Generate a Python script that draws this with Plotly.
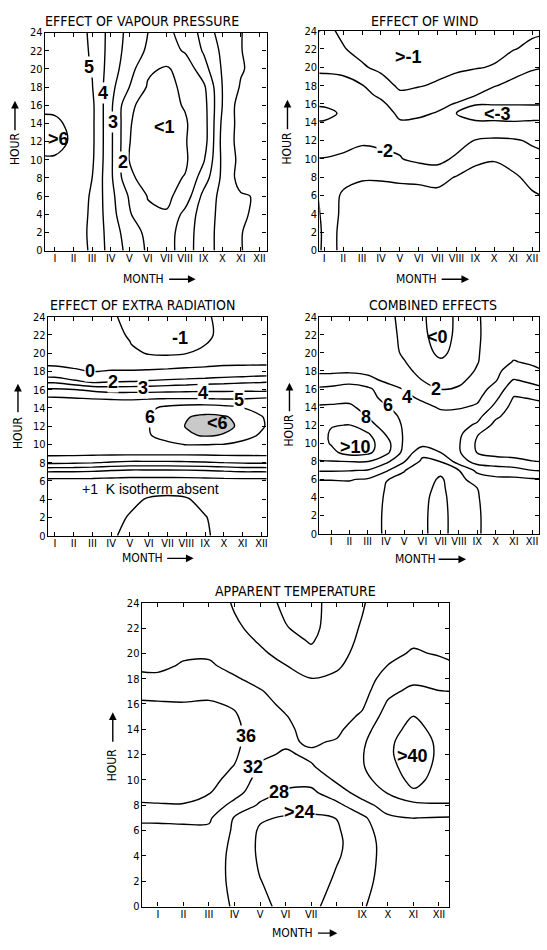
import plotly.graph_objects as go

W, H = 547, 950

# ---------------- data ----------------
MONTHS = [0.3, 1, 2, 3, 4, 5, 6, 7, 8, 9, 10, 11, 12, 12.7]
ROMAN = ["I", "II", "III", "IV", "V", "VI", "VII", "VIII", "IX", "X", "XI", "XII"]
ROMAN_APPARENT = ["I", "II", "III", "IV", "V", "VI", "VII", "", "IX", "X", "XI", "XII"]
MONTH_TICKS = list(range(1, 13))
HOUR_TICKS = list(range(0, 25, 2))

# Effect of vapour pressure (K)
HOURS_VAPOUR = [0, 2, 4, 6, 8, 10, 12, 14, 16, 18, 20, 22, 24]
VAPOUR = [
    [5.7, 5.7, 5.5, 4.85, 3.6, 2.7, 1.85, 1.6, 2.5, 3.6, 4.3, 4.97, 5.3, 5.4],
    [5.7, 5.7, 5.5, 4.8, 3.55, 2.5, 1.75, 1.6, 2.45, 3.6, 4.3, 4.97, 5.3, 5.4],
    [5.7, 5.7, 5.5, 4.85, 3.4, 2.1, 1.2, 1.08, 2.3, 3.5, 4.3, 4.9, 5.15, 5.3],
    [5.7, 5.7, 5.5, 4.9, 3.3, 1.9, 0.95, 0.8, 1.4, 3.3, 4.3, 4.9, 5.1, 5.3],
    [5.8, 5.8, 5.6, 5.0, 3.2, 1.15, 0.7, 0.75, 1.05, 2.5, 4.2, 5.4, 5.5, 5.6],
    [5.9, 5.9, 5.7, 5.15, 3.2, 0.98, 0.6, 0.5, 0.85, 1.9, 4.2, 5.3, 5.5, 5.6],
    [6.3, 6.3, 5.85, 5.2, 3.2, 1.02, 0.6, 0.5, 0.95, 1.5, 4.3, 5.4, 5.5, 5.6],
    [6.2, 6.15, 5.8, 5.2, 3.2, 1.05, 0.65, 0.6, 0.92, 1.5, 4.2, 5.4, 5.5, 5.6],
    [5.8, 5.8, 5.6, 5.2, 3.2, 1.15, 0.7, 0.8, 1.05, 1.6, 4.0, 5.5, 5.6, 5.65],
    [5.7, 5.7, 5.5, 5.05, 3.3, 2.0, 0.9, 0.8, 1.15, 1.8, 4.0, 5.1, 5.5, 5.6],
    [5.6, 5.6, 5.4, 4.95, 3.5, 2.4, 1.15, 0.9, 1.35, 2.6, 4.1, 4.9, 5.4, 5.5],
    [5.6, 5.6, 5.4, 4.9, 3.6, 2.6, 1.85, 1.6, 2.1, 3.1, 4.2, 4.97, 5.4, 5.5],
    [5.6, 5.6, 5.4, 4.85, 3.65, 2.7, 2.0, 1.75, 2.4, 3.3, 4.5, 4.97, 5.4, 5.5],
]

# Effect of wind (K)
HOURS_WIND = [0, 2, 4, 6, 8, 10, 12, 14, 15, 16, 17, 18, 20, 22, 24]
WIND = [
    [-0.4, -1.2, -0.9, -0.75, -0.7, -0.65, -0.65, -0.6, -0.5, -0.45, -0.45, -0.5, -0.6, -0.65],
    [-0.3, -1.2, -0.9, -0.7, -0.65, -0.6, -0.6, -0.55, -0.45, -0.4, -0.4, -0.45, -0.6, -0.65],
    [-0.5, -1.25, -0.92, -0.75, -0.7, -0.65, -0.65, -0.6, -0.5, -0.45, -0.45, -0.5, -0.65, -0.75],
    [-0.75, -1.3, -0.93, -0.8, -0.8, -0.8, -0.85, -0.8, -0.65, -0.55, -0.5, -0.6, -0.9, -1.05],
    [-1.6, -1.6, -1.15, -1.05, -1.05, -1.1, -1.1, -1.25, -0.95, -0.75, -0.7, -0.85, -1.25, -1.4],
    [-1.97, -1.97, -1.85, -1.6, -1.7, -1.95, -2.25, -2.35, -1.8, -1.15, -1.05, -1.35, -1.75, -1.85],
    [-2.4, -2.4, -2.3, -2.15, -2.25, -2.2, -2.4, -2.55, -2.5, -1.95, -1.85, -1.9, -2.1, -2.2],
    [-2.95, -2.95, -2.7, -2.5, -2.6, -2.1, -2.15, -2.4, -2.9, -2.9, -2.9, -2.95, -2.9, -2.9],
    [-3.2, -3.2, -2.9, -2.6, -2.6, -1.75, -1.85, -2.05, -3.02, -3.4, -3.45, -3.45, -3.4, -3.4],
    [-2.9, -2.9, -2.7, -2.55, -2.2, -1.5, -1.6, -1.8, -2.05, -2.95, -2.95, -2.95, -2.95, -2.95],
    [-2.65, -2.65, -2.5, -2.3, -1.8, -1.15, -1.3, -1.45, -1.7, -1.95, -2.4, -2.6, -2.7, -2.75],
    [-2.4, -2.4, -2.35, -2.05, -1.4, -0.85, -0.95, -1.1, -1.35, -1.55, -1.95, -2.25, -2.45, -2.5],
    [-1.8, -1.8, -1.7, -1.1, -0.8, -0.6, -0.7, -0.75, -0.85, -0.95, -1.05, -1.6, -1.9, -1.98],
    [-1.3, -1.5, -1.05, -0.75, -0.6, -0.5, -0.6, -0.6, -0.65, -0.7, -0.8, -0.95, -1.2, -1.3],
    [-0.6, -1.2, -0.85, -0.7, -0.55, -0.5, -0.55, -0.55, -0.55, -0.6, -0.65, -0.7, -0.85, -0.9],
]

# Effect of extra radiation (K)
HOURS_RADIATION = [0, 2, 4, 5, 6, 7, 8, 9, 10, 11, 12, 13, 14, 15, 16, 17, 18, 19, 20, 21, 22, 24]
RADIATION = [
    [-0.4, -0.4, -0.45, -0.55, -0.85, -1.3, -1.5, -1.55, -1.5, -1.08, -0.8, -0.6, -0.5, -0.45],
    [-0.4, -0.4, -0.45, -0.55, -0.8, -1.05, -1.4, -1.45, -1.4, -1.03, -0.75, -0.6, -0.5, -0.45],
    [-0.4, -0.4, -0.45, -0.5, -0.65, -0.85, -1.05, -1.1, -1.05, -0.8, -0.6, -0.5, -0.45, -0.4],
    [-0.4, -0.4, -0.45, -0.5, -0.6, -0.7, -0.8, -0.85, -0.8, -0.65, -0.55, -0.5, -0.45, -0.4],
    [-0.6, -0.65, -0.67, -0.7, -0.8, -0.9, -0.9, -0.9, -0.9, -0.8, -0.7, -0.67, -0.65, -0.6],
    [2.05, 2.0, 2.0, 1.9, 1.7, 1.55, 1.55, 1.55, 1.6, 1.7, 1.85, 2.0, 2.0, 2.05],
    [4.2, 4.2, 4.15, 4.05, 3.9, 3.8, 3.8, 3.8, 3.85, 3.9, 4.0, 4.1, 4.15, 4.2],
    [5.25, 5.25, 5.25, 5.22, 5.2, 5.2, 5.2, 5.2, 5.2, 5.22, 5.25, 5.25, 5.25, 5.25],
    [5.5, 5.5, 5.5, 5.5, 5.5, 5.55, 5.6, 5.85, 6.03, 6.03, 5.98, 5.8, 5.6, 5.55],
    [5.55, 5.55, 5.55, 5.55, 5.55, 5.65, 5.95, 6.3, 6.85, 7.1, 6.95, 6.3, 5.9, 5.6],
    [5.6, 5.6, 5.6, 5.6, 5.6, 5.7, 5.98, 6.5, 7.05, 7.35, 7.2, 6.85, 6.1, 5.7],
    [5.55, 5.55, 5.55, 5.55, 5.55, 5.65, 5.98, 6.4, 6.95, 7.2, 7.1, 6.7, 6.05, 5.65],
    [5.45, 5.45, 5.45, 5.45, 5.45, 5.55, 5.8, 6.25, 6.45, 6.5, 6.35, 6.02, 5.7, 5.5],
    [5.2, 5.18, 5.1, 4.99, 4.96, 4.93, 4.97, 5.02, 5.03, 5.02, 4.98, 4.97, 5.1, 5.2],
    [4.15, 4.15, 4.05, 3.8, 3.6, 3.6, 3.6, 3.65, 3.7, 3.75, 3.75, 3.8, 3.75, 3.8],
    [2.62, 2.62, 2.1, 1.5, 1.75, 1.8, 2.0, 2.2, 2.35, 2.5, 2.6, 2.7, 2.8, 2.85],
    [0.9, 0.9, 0.3, -0.05, 0.1, 0.1, 0.15, 0.25, 0.4, 0.55, 0.9, 1.05, 1.2, 1.2],
    [-0.6, -0.6, -0.6, -0.6, -0.7, -0.7, -0.65, -0.65, -0.6, -0.55, -0.5, -0.5, -0.5, -0.5],
    [-0.5, -0.5, -0.5, -0.55, -0.7, -0.85, -1.05, -1.1, -1.02, -0.8, -0.6, -0.5, -0.5, -0.5],
    [-0.5, -0.5, -0.5, -0.6, -0.8, -0.98, -1.3, -1.35, -1.25, -1.02, -0.75, -0.55, -0.5, -0.5],
    [-0.5, -0.5, -0.5, -0.6, -0.85, -1.05, -1.4, -1.45, -1.35, -1.15, -0.8, -0.6, -0.5, -0.5],
    [-0.5, -0.5, -0.5, -0.65, -0.9, -1.2, -1.45, -1.5, -1.45, -1.1, -0.8, -0.6, -0.5, -0.5],
]

# Combined effects (K)
HOURS_COMBINED = [0, 2, 4, 5, 6, 7, 8, 9, 10, 11, 12, 13, 14, 15, 16, 17, 18, 19, 20, 22, 24]
COMBINED = [
    [3.0, 3.0, 3.0, 3.0, 1.7, 1.2, 0.25, -0.6, 0.9, 1.85, 2.6, 2.8, 2.8, 2.8],
    [3.0, 3.0, 3.0, 3.0, 1.7, 1.2, 0.25, -0.6, 0.9, 1.85, 2.6, 2.8, 2.8, 2.8],
    [3.2, 3.2, 3.2, 3.1, 1.8, 1.3, 0.3, -0.5, 1.0, 1.9, 2.8, 3.0, 3.0, 3.0],
    [3.5, 3.5, 3.5, 3.3, 1.9, 1.5, 0.45, -0.4, 1.2, 1.98, 3.1, 3.3, 3.3, 3.3],
    [4.05, 4.05, 4.1, 3.8, 2.05, 1.75, 0.9, -0.3, 1.5, 2.8, 3.6, 3.6, 3.75, 3.85],
    [6.2, 6.2, 6.1, 5.9, 4.3, 2.05, 1.3, 0.55, 1.98, 4.5, 4.9, 5.2, 6.0, 6.1],
    [7.9, 7.95, 8.05, 8.1, 6.5, 4.15, 1.6, 2.05, 5.0, 6.8, 7.3, 7.6, 7.95, 8.1],
    [8.8, 9.5, 10.8, 10.5, 8.6, 5.4, 2.6, 4.05, 5.8, 8.1, 8.6, 8.6, 8.8, 8.9],
    [9.2, 10.15, 11.1, 10.8, 8.8, 5.7, 4.8, 4.9, 5.85, 8.3, 8.9, 9.0, 9.0, 9.05],
    [9.3, 10.2, 10.9, 10.3, 7.9, 5.8, 5.2, 5.1, 5.6, 7.9, 9.0, 9.1, 9.1, 9.1],
    [9.2, 9.9, 10.05, 8.6, 7.3, 5.75, 5.35, 5.0, 5.3, 6.3, 8.6, 9.1, 9.1, 9.1],
    [8.8, 9.2, 9.3, 7.9, 6.9, 5.5, 5.1, 4.5, 4.8, 5.4, 7.6, 9.0, 9.0, 9.0],
    [8.2, 8.3, 8.4, 7.2, 6.2, 5.0, 4.5, 3.8, 3.8, 4.3, 6.5, 8.7, 8.6, 8.5],
    [7.3, 7.3, 7.4, 6.8, 5.4, 4.5, 3.7, 2.9, 3.0, 3.6, 5.6, 8.15, 7.9, 7.6],
    [6.2, 6.3, 6.6, 6.4, 4.9, 3.9, 2.8, 1.98, 2.2, 3.0, 4.8, 7.2, 6.7, 6.2],
    [5.2, 5.3, 5.5, 4.6, 3.6, 3.3, 1.95, 1.3, 1.6, 2.6, 3.8, 6.1, 5.5, 5.0],
    [3.5, 3.5, 3.6, 3.5, 3.2, 2.6, 1.3, 0.7, 1.0, 2.2, 3.4, 5.2, 4.5, 3.98],
    [3.4, 3.4, 3.4, 3.3, 3.0, 2.1, 0.9, 0.2, 0.7, 1.9, 3.2, 4.1, 3.7, 3.6],
    [3.3, 3.3, 3.3, 3.2, 2.9, 1.7, 0.5, -0.3, 0.5, 1.85, 3.0, 3.6, 3.4, 3.4],
    [3.2, 3.2, 3.2, 3.1, 2.8, 1.5, 0.25, -0.6, 0.35, 1.8, 2.8, 3.2, 3.1, 3.1],
    [3.1, 3.1, 3.1, 3.0, 2.6, 1.4, 0.15, -0.6, 0.3, 1.85, 2.7, 3.0, 3.0, 3.0],
]

# Apparent temperature (deg C)
HOURS_APPARENT = [0, 2, 4, 5, 6, 7, 8, 9, 10, 11, 12, 13, 14, 15, 16, 17, 18, 19, 20, 21, 22, 24]
APPARENT = [
    [30.0, 30.0, 30.0, 29.8, 27.6, 24.9, 23.0, 22.6, 26.5, 27.6, 30.2, 30.4, 30.3, 30.2],
    [29.8, 29.8, 29.8, 29.6, 27.2, 24.1, 22.6, 22.0, 24.6, 26.6, 29.8, 30.0, 30.0, 29.9],
    [30.2, 30.2, 30.2, 30.0, 27.0, 23.4, 22.2, 21.6, 23.6, 26.0, 29.6, 29.8, 29.8, 29.7],
    [30.8, 30.8, 30.8, 30.6, 27.1, 23.3, 22.2, 21.6, 23.4, 25.8, 29.8, 30.0, 30.0, 29.9],
    [31.3, 31.3, 31.4, 31.3, 27.4, 23.5, 22.6, 22.2, 23.6, 26.2, 30.4, 30.8, 30.6, 30.5],
    [32.5, 32.5, 32.6, 32.6, 27.7, 24.5, 23.6, 23.4, 24.05, 27.2, 31.4, 32.05, 31.8, 31.7],
    [35.7, 35.8, 35.8, 34.6, 30.7, 27.5, 25.8, 25.4, 27.0, 30.6, 33.6, 34.9, 35.7, 35.7],
    [37.0, 37.0, 37.2, 36.2, 33.5, 29.4, 27.6, 27.2, 30.2, 33.6, 36.2, 39.4, 37.6, 37.4],
    [37.6, 37.6, 37.8, 37.2, 34.6, 30.6, 29.0, 29.2, 32.6, 35.0, 37.6, 41.2, 38.6, 38.3],
    [38.0, 38.0, 38.2, 37.8, 35.8, 31.6, 30.4, 31.7, 33.4, 35.7, 38.8, 41.8, 39.2, 38.8],
    [38.2, 38.2, 38.4, 38.0, 36.6, 32.6, 31.6, 32.5, 33.5, 35.8, 39.4, 42.0, 39.5, 39.0],
    [38.2, 38.2, 38.4, 38.0, 36.9, 33.6, 32.5, 31.6, 32.3, 35.4, 39.4, 41.6, 39.5, 39.0],
    [38.0, 38.0, 38.2, 37.8, 36.8, 34.0, 32.8, 30.6, 31.2, 34.2, 39.0, 40.8, 39.2, 38.8],
    [37.4, 37.4, 37.6, 37.2, 36.4, 33.8, 32.2, 30.0, 30.4, 32.6, 37.8, 40.05, 38.6, 38.3],
    [36.5, 36.4, 36.2, 36.4, 35.6, 33.2, 31.2, 29.4, 29.8, 31.4, 36.5, 38.6, 37.6, 37.4],
    [34.8, 34.6, 34.8, 35.0, 34.2, 32.3, 30.2, 28.8, 29.2, 30.6, 35.0, 37.0, 36.1, 35.9],
    [32.9, 32.8, 33.5, 33.8, 32.4, 30.8, 29.2, 28.05, 28.6, 30.0, 33.6, 35.0, 34.6, 34.1],
    [31.3, 31.2, 32.4, 32.5, 31.0, 29.6, 28.1, 26.6, 27.6, 29.5, 32.1, 33.8, 33.1, 32.2],
    [30.6, 30.6, 31.4, 31.5, 30.0, 28.5, 27.0, 25.0, 27.0, 29.0, 31.0, 32.4, 31.7, 31.2],
    [30.3, 30.3, 30.8, 31.0, 29.2, 27.7, 25.6, 23.6, 26.6, 28.6, 30.5, 31.4, 31.0, 30.7],
    [30.2, 30.2, 30.5, 30.6, 28.6, 26.9, 24.2, 22.8, 26.3, 28.3, 30.3, 30.9, 30.6, 30.4],
    [30.0, 30.0, 30.2, 30.2, 27.6, 25.6, 23.2, 22.6, 26.0, 27.7, 30.2, 30.6, 30.3, 30.2],
]

# ---------------- styling ----------------
NARROW = "Liberation Sans Narrow, Arial Narrow, DejaVu Sans Condensed, Liberation Sans, Arial, sans-serif"
SANS = "Liberation Sans, Arial, Helvetica, sans-serif"
TICK_FONT = dict(family=NARROW, size=11, color="black")
AXT_FONT = dict(family=NARROW, size=12, color="black")
TITLE_FONT = dict(family=NARROW, size=14, color="black")
LABEL_FONT = dict(family=SANS, size=18, color="black")


def px(x):
    return x / W


def py(y):
    return 1 - y / H


fig = go.Figure()


def add_contour(z, hours, start, end, size, xa, ya, width=1.4):
    fig.add_trace(go.Contour(
        x=MONTHS, y=hours, z=z, xaxis=xa, yaxis=ya,
        autocontour=False,
        contours=dict(start=start, end=end, size=size, coloring="lines", showlabels=False),
        colorscale=[[0, "black"], [1, "black"]], showscale=False,
        line=dict(width=width, smoothing=1.0), hoverinfo="skip",
    ))


# hatched core of the radiation maximum (light fill)
fig.add_trace(go.Contour(
    x=MONTHS, y=HOURS_RADIATION, z=RADIATION, xaxis="x3", yaxis="y3",
    autocontour=False, zmin=6.5, zmax=7.5,
    contours=dict(start=7, end=7, size=1, coloring="fill"),
    colorscale=[[0, "rgba(255,255,255,0)"], [0.5, "rgba(255,255,255,0)"],
                [0.5, "rgba(60,60,60,0.28)"], [1, "rgba(60,60,60,0.28)"]],
    showscale=False, line=dict(width=0), hoverinfo="skip",
))

add_contour(VAPOUR, HOURS_VAPOUR, 1, 6, 1, "x", "y")
add_contour(WIND, HOURS_WIND, -3, -1, 1, "x2", "y2")
add_contour(RADIATION, HOURS_RADIATION, -1, 0, 1, "x3", "y3")
add_contour(RADIATION, HOURS_RADIATION, 2, 7, 1, "x3", "y3")
add_contour(COMBINED, HOURS_COMBINED, 0, 10, 2, "x4", "y4")
add_contour(APPARENT, HOURS_APPARENT, 24, 40, 4, "x5", "y5")

# panel geometry in pixels: (left, right, top, bottom, month range)
PANELS = [
    (45, 267, 27, 248, [0.46, 12.38], ROMAN),
    (320, 540, 25, 248, [0.74, 12.37], ROMAN),
    (48, 267, 315, 537, [0.63, 12.27], ROMAN),
    (320, 540, 315, 535, [0.36, 12.38], ROMAN),
    (142, 450, 605, 913, [0.37, 12.40], ROMAN_APPARENT),
]

layout = {}
for i, (l, r, t, b, xr, labels) in enumerate(PANELS, start=1):
    sx = "" if i == 1 else str(i)
    common = dict(showline=True, linecolor="black", linewidth=1.2, mirror="ticks",
                  ticks="inside", ticklen=4, tickwidth=1, tickcolor="black",
                  showgrid=False, zeroline=False, fixedrange=True, tickfont=TICK_FONT)
    layout["xaxis" + sx] = dict(domain=[px(l), px(r)], range=xr, anchor="y" + sx,
                                tickmode="array", tickvals=MONTH_TICKS, ticktext=labels,
                                ticklabelstandoff=-3, **common)
    layout["yaxis" + sx] = dict(domain=[py(b), py(t)], range=[0, 24], anchor="x" + sx,
                                tickmode="array", tickvals=HOUR_TICKS,
                                ticktext=[str(h) for h in HOUR_TICKS],
                                ticklabelstandoff=-1, **common)

ann = []


def text_px(x, y, s, font, **kw):
    ann.append(dict(x=px(x), y=py(y), xref="paper", yref="paper", text=s, showarrow=False,
                    font=font, xanchor="center", yanchor="middle", **kw))


def arrow_px(x0, y0, x1, y1):
    ann.append(dict(x=px(x1), y=py(y1), xref="paper", yref="paper", text="", showarrow=True,
                    ax=x0 - x1, ay=y0 - y1, axref="pixel", ayref="pixel",
                    arrowhead=2, arrowsize=1.1, arrowwidth=1.4, arrowcolor="black"))


# titles
text_px(142, 15, "EFFECT OF VAPOUR PRESSURE", TITLE_FONT)
text_px(425, 15, "EFFECT OF WIND", TITLE_FONT)
text_px(143, 303, "EFFECT OF EXTRA RADIATION", TITLE_FONT)
text_px(434, 303, "COMBINED EFFECTS", TITLE_FONT)
text_px(296, 593, "APPARENT TEMPERATURE", TITLE_FONT)

# axis titles with arrows
for (mx, my, a0, a1) in [(144, 277, 168, 196), (417, 277, 441, 470), (143, 560, 166, 194),
                         (416, 561, 438, 467), (293, 940, 317, 338)]:
    text_px(mx, my, "MONTH", AXT_FONT)
    arrow_px(a0, my, a1, my)
for (hx, hy, t0, t1) in [(15, 144, 127, 96), (288, 144, 126, 95), (18, 432, 413, 383),
                         (290, 430, 412, 382), (113, 769, 747, 716)]:
    text_px(hx, hy, "HOUR", AXT_FONT, textangle=-90)
    arrow_px(hx, t0, hx, t1)


def lab(xa, ya, x, y, s, bg=True, font=None):
    ann.append(dict(x=x, y=y, xref=xa, yref=ya, text="<b>%s</b>" % s, showarrow=False,
                    font=font or LABEL_FONT, xanchor="center", yanchor="middle",
                    bgcolor="white" if bg else "rgba(0,0,0,0)", borderpad=0))


# vapour pressure labels
lab("x", "y", 2.82, 20.2, "5")
lab("x", "y", 3.58, 17.4, "4")
lab("x", "y", 4.12, 14.2, "3")
lab("x", "y", 4.66, 9.8, "2")
lab("x", "y", 6.88, 13.6, "&lt;1", bg=False)
lab("x", "y", 1.2, 12.3, "&gt;6", bg=False)
# wind labels
lab("x2", "y2", 5.44, 21.1, "&gt;-1", bg=False)
lab("x2", "y2", 4.2, 10.9, "-2")
lab("x2", "y2", 10.19, 14.9, "&lt;-3", bg=False)
# radiation labels
lab("x3", "y3", 7.65, 21.65, "-1", bg=False)
lab("x3", "y3", 2.85, 18.05, "0")
lab("x3", "y3", 4.09, 16.8, "2")
lab("x3", "y3", 5.69, 16.2, "3")
lab("x3", "y3", 8.88, 15.65, "4")
lab("x3", "y3", 10.83, 14.9, "5")
lab("x3", "y3", 6.05, 13.0, "6")
lab("x3", "y3", 9.67, 12.3, "&lt;6", bg=False)
ann.append(dict(x=6.1, y=5.1, xref="x3", yref="y3", text="+1  K isotherm absent", showarrow=False,
                font=dict(family=SANS, size=14, color="black"), xanchor="center", yanchor="middle"))
# combined labels
lab("x4", "y4", 6.83, 21.8, "&lt;0", bg=False)
lab("x4", "y4", 6.73, 16.0, "2")
lab("x4", "y4", 5.18, 15.1, "4")
lab("x4", "y4", 4.09, 14.2, "6")
lab("x4", "y4", 2.91, 12.9, "8")
lab("x4", "y4", 2.36, 9.64, "&gt;10", bg=False)
# apparent temperature labels
lab("x5", "y5", 4.46, 13.48, "36")
lab("x5", "y5", 4.72, 11.05, "32")
lab("x5", "y5", 5.76, 9.06, "28")
lab("x5", "y5", 6.54, 7.5, "&gt;24")
lab("x5", "y5", 10.97, 11.9, "&gt;40", bg=False)

fig.update_layout(
    width=W, height=H, autosize=False,
    margin=dict(l=0, r=0, t=0, b=0),
    paper_bgcolor="white", plot_bgcolor="white",
    showlegend=False, annotations=ann, **layout,
)

fig.write_html("out.html", config={"displayModeBar": False})
